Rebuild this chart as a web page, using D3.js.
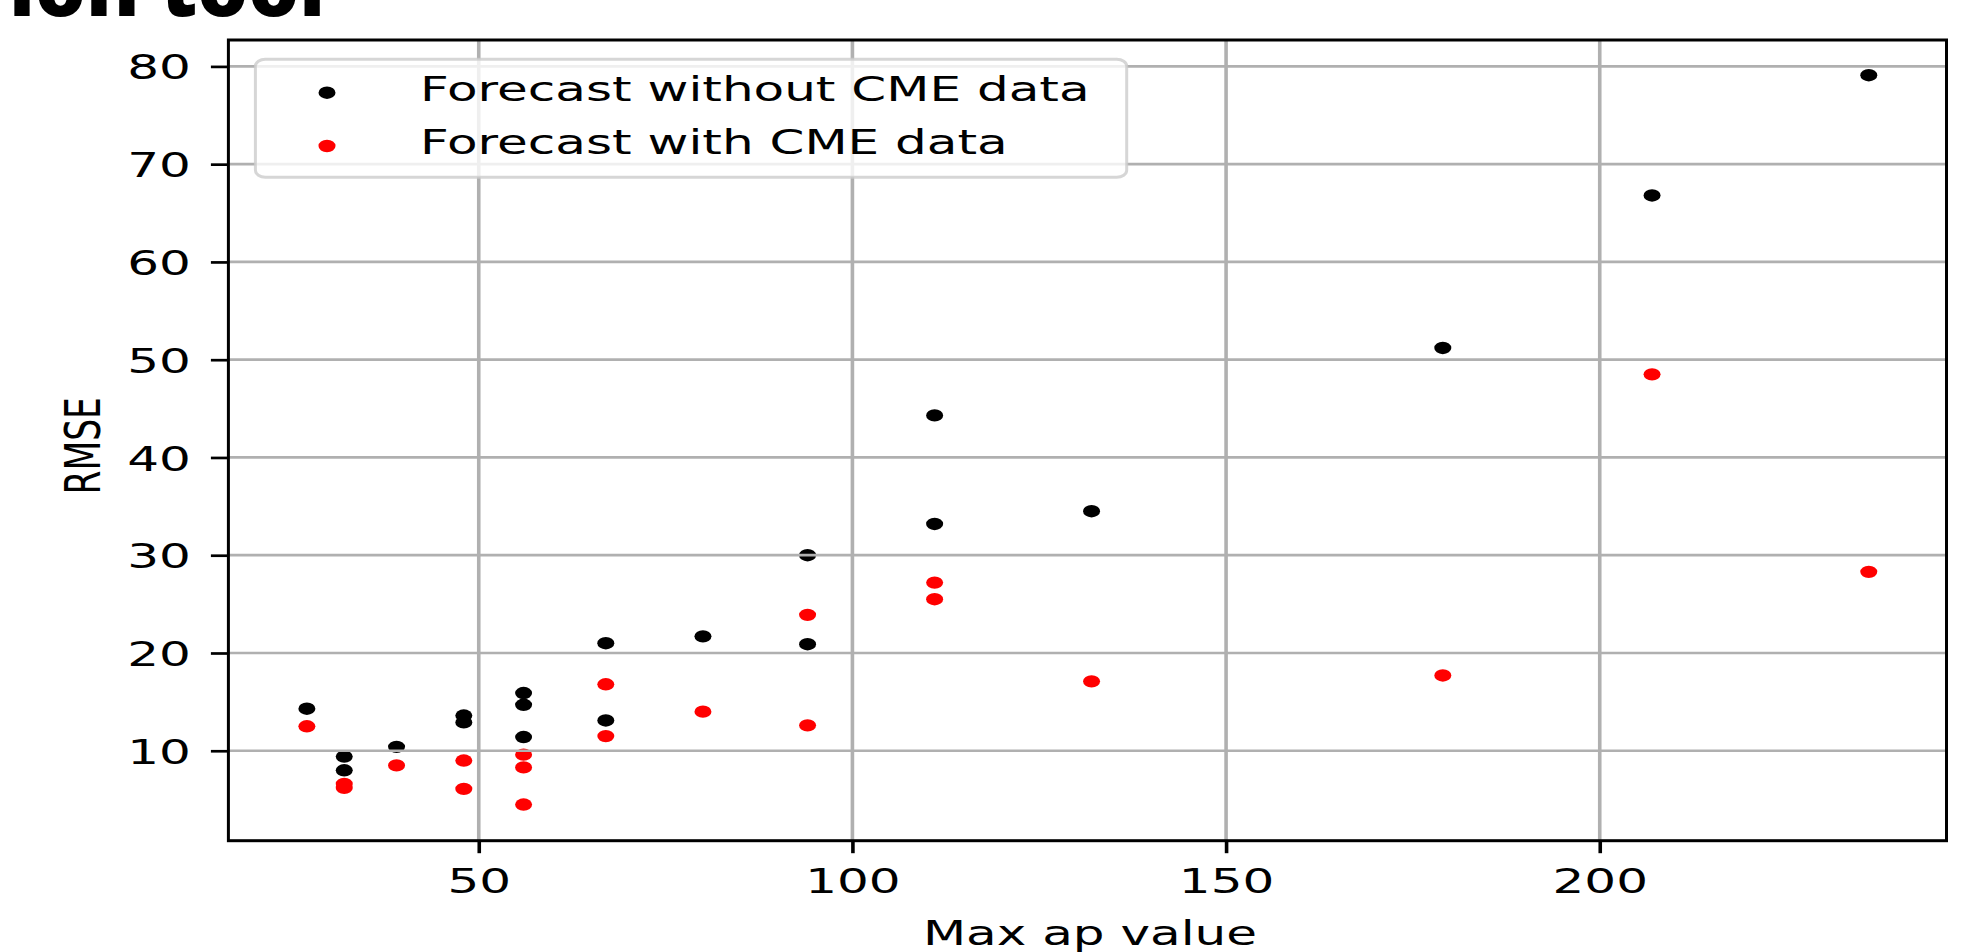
<!DOCTYPE html>
<html>
<head>
<meta charset="utf-8">
<script src="https://cdn.jsdelivr.net/npm/d3@7"></script>
<style>
  body{margin:0;background:#fff;overflow:hidden}
  text{font-family:"DejaVu Sans",sans-serif;fill:#000}
</style>
</head>
<body>
<div class="chart"></div>
<script>
// max ap value of each event, and rmse of the two forecasts
const apValues=[27,32,32,39,48,48,56,56,56,67,67,80,94,94,111,111,132,179,207,236]
const rmseWithout=[14.3,9.4,8.0,10.4,13.6,12.9,15.9,14.7,11.4,21.0,13.1,21.7,30.0,20.9,44.3,33.2,34.5,51.2,66.8,79.1]
const rmseWith=[12.5,6.6,6.2,8.5,9.0,6.1,9.6,8.3,4.5,16.8,11.5,14.0,23.9,12.6,27.2,25.5,17.1,17.7,48.5,28.3]
const xTicks=[50,100,150,200]
const yTicks=[10,20,30,40,50,60,70,80]
const seriesNames=['Forecast without CME data','Forecast with CME data']
const seriesColors=['#000000','#ff0000']

const W=1984,H=952
const plot={left:228.4,right:1946.5,top:40,bottom:840.7}
const sx=1.45 // picture is stretched sideways
const fs=34.5

const svg=d3.select('.chart').append('svg')
	.attr('width',W)
	.attr('height',H)

// bit of slide title cut off at the top
svg.append('text')
	.attr('x',325)
	.attr('y',16)
	.attr('text-anchor','end')
	.style('font-family','"Open Sans",sans-serif')
	.style('font-weight',800)
	.style('font-size','80px')
	.text('ion tool')

const x=d3.scaleLinear().domain([16.5,246.4]).range([plot.left,plot.right])
const y=d3.scaleLinear().domain([0.8,82.7]).range([plot.bottom,plot.top])

const data=apValues.map((a,i)=>({ap:a,without:rmseWithout[i],with:rmseWith[i]}))

// points
const keys=['without','with']
keys.forEach((k,j)=>{
	svg.append('g').selectAll('ellipse')
		.data(data)
		.enter()
		.append('ellipse')
		.attr('cx',d=>x(d.ap))
		.attr('cy',d=>y(d[k]))
		.attr('rx',8.5)
		.attr('ry',6.2)
		.attr('fill',seriesColors[j])
})

// grid (drawn over the points like matplotlib does)
const grid=svg.append('g')
grid.selectAll('.gx')
	.data(xTicks)
	.enter()
	.append('line')
	.attr('x1',d=>x(d)).attr('x2',d=>x(d))
	.attr('y1',plot.top).attr('y2',plot.bottom)
	.attr('stroke','#b0b0b0')
	.attr('stroke-width',3.6)
grid.selectAll('.gy')
	.data(yTicks)
	.enter()
	.append('line')
	.attr('x1',plot.left).attr('x2',plot.right)
	.attr('y1',d=>y(d)).attr('y2',d=>y(d))
	.attr('stroke','#b0b0b0')
	.attr('stroke-width',2.7)

// axes
const xAxis=d3.axisBottom(x).tickValues(xTicks).tickSize(12.5).tickPadding(0).tickFormat(d3.format('d'))
const yAxis=d3.axisLeft(y).tickValues(yTicks).tickSize(17.5).tickPadding(0).tickFormat(d3.format('d'))

const gx=svg.append('g')
	.attr('transform',`translate(0,${plot.bottom})`)
	.call(xAxis)
gx.select('.domain').remove()
gx.selectAll('line').attr('stroke','#000').attr('stroke-width',3.6)
gx.selectAll('text')
	.attr('y',null).attr('dy',null)
	.attr('transform',`translate(0,52.6) scale(${sx},1)`)
	.attr('fill','#000')
	.style('font-size',fs+'px')

const gy=svg.append('g')
	.attr('transform',`translate(${plot.left},0)`)
	.call(yAxis)
gy.select('.domain').remove()
gy.selectAll('line').attr('stroke','#000').attr('stroke-width',2.7)
gy.selectAll('text')
	.attr('x',null).attr('dy',null)
	.attr('transform',`translate(-37.5,12.6) scale(${sx},1)`)
	.attr('fill','#000')
	.style('font-size',fs+'px')

// frame
svg.append('rect')
	.attr('x',plot.left)
	.attr('y',plot.top)
	.attr('width',plot.right-plot.left)
	.attr('height',plot.bottom-plot.top)
	.attr('fill','none')
	.attr('stroke','#000')
	.attr('stroke-width',3)

// axis titles
svg.append('text')
	.attr('text-anchor','middle')
	.attr('transform',`translate(1090,945) scale(${sx},1)`)
	.style('font-size',fs+'px')
	.text('Max ap value')

svg.append('text')
	.attr('text-anchor','middle')
	.attr('transform',`translate(100,445.8) scale(${sx},1) rotate(-90)`)
	.style('font-size',fs+'px')
	.text('RMSE')

// legend
const legend=svg.append('g')
legend.append('rect')
	.attr('x',255.4)
	.attr('y',59.3)
	.attr('width',871.3)
	.attr('height',118)
	.attr('rx',10)
	.attr('ry',7)
	.attr('fill','#fff')
	.attr('fill-opacity',0.8)
	.attr('stroke','#cccccc')
	.attr('stroke-opacity',0.8)
	.attr('stroke-width',3)

const rows=legend.selectAll('.row')
	.data(seriesNames)
	.enter()
	.append('g')
	.attr('transform',(d,i)=>`translate(0,${i*53.3})`)
rows.append('ellipse')
	.attr('cx',327)
	.attr('cy',92.7)
	.attr('rx',8.5)
	.attr('ry',6.2)
	.attr('fill',(d,i)=>seriesColors[i])
rows.append('text')
	.attr('transform',`translate(420,100.7) scale(${sx},1)`)
	.style('font-size',fs+'px')
	.text(d=>d)
</script>
</body>
</html>
